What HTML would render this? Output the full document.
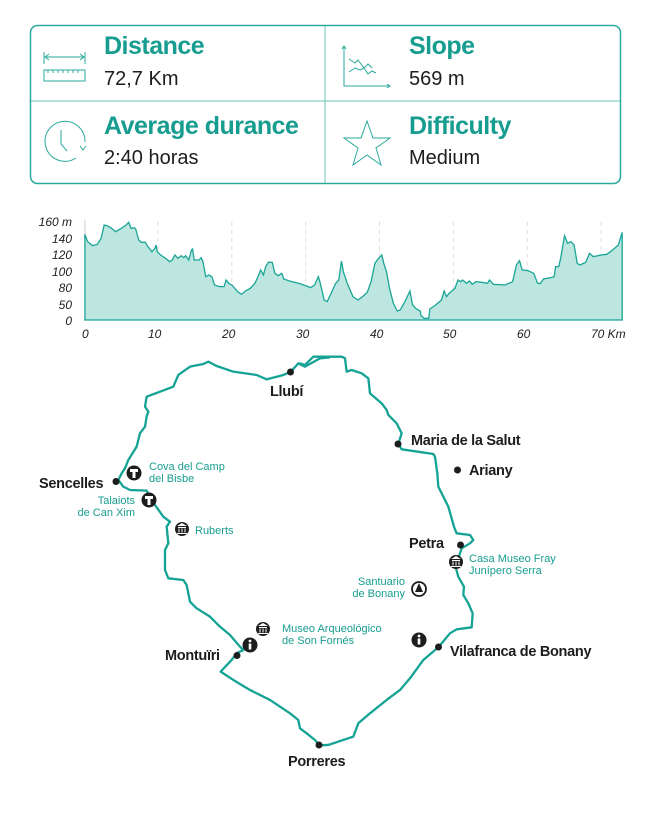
<!DOCTYPE html>
<html><head><meta charset="utf-8"><style>
body{margin:0;width:647px;height:821px;background:#fff;font-family:"Liberation Sans",sans-serif;overflow:hidden}
svg{position:absolute;left:0;top:0}
</style></head><body>
<svg width="647" height="821" viewBox="0 0 647 821" xmlns="http://www.w3.org/2000/svg">
<rect x="30.5" y="25.5" width="590" height="158" rx="7" fill="none" stroke="#2aa99c" stroke-width="1.5"/>
<line x1="325" y1="26" x2="325" y2="183" stroke="#6cc4bb" stroke-width="1"/>
<line x1="31" y1="101" x2="620" y2="101" stroke="#6cc4bb" stroke-width="1"/>
<g font-weight="bold" fill="#179d90" font-size="25" letter-spacing="-0.5">
<text x="104" y="54">Distance</text>
<text x="409" y="54">Slope</text>
<text x="104" y="134">Average durance</text>
<text x="409" y="134">Difficulty</text>
</g>
<g fill="#1d1d1d" font-size="20">
<text x="104" y="85">72,7 Km</text>
<text x="409" y="85">569 m</text>
<text x="104" y="164">2:40 horas</text>
<text x="409" y="164">Medium</text>
</g>
<g fill="none" stroke="#2aa99c" stroke-width="1">
<line x1="44" y1="52" x2="44" y2="64"/><line x1="85" y1="52" x2="85" y2="64"/>
<line x1="45" y1="57" x2="84" y2="57"/><path d="M49 54l-4 3 4 3M80 54l4 3-4 3"/>
<rect x="44" y="70" width="41" height="11"/>
<path d="M48 70v3M53 70v3M58 70v3M63 70v3M68 70v3M73 70v3M78 70v3"/>
<path d="M344 46v40h46M342 49l2-3 2 3M387 84l3 2-3 2"/>
<path d="M349 59l6 4 3-3 6 8 4-4 4 4"/><path d="M349 72l6-4 5 2 4-2 4 6 4-3 4 2"/>
<path d="M85 142 A20 20 0 1 0 76 158"/><path d="M80 146l3 4 3-4"/><path d="M61 130v14l6 7"/>
<path d="M367 121l6 17 17 0-14 10 5 17-14-10-14 10 5-17-14-10 17 0z"/>
</g>
<g font-size="12" font-style="italic" fill="#222" text-anchor="end">
<text x="72" y="226">160 m</text><text x="72" y="243">140</text><text x="72" y="259">120</text>
<text x="72" y="276">100</text><text x="72" y="292">80</text><text x="72" y="309">50</text><text x="72" y="325">0</text>
</g>
<g font-size="12" font-style="italic" fill="#222">
<text x="82" y="338">0</text><text x="148" y="338">10</text><text x="222" y="338">20</text><text x="296" y="338">30</text>
<text x="370" y="338">40</text><text x="443" y="338">50</text><text x="517" y="338">60</text><text x="591" y="338">70 Km</text>
</g>
<g transform="translate(28,205) scale(0.3846,0.3333)">
<g stroke="#ddd" stroke-width="1" stroke-dasharray="4 4">
<line x1="338" y1="50" x2="338" y2="345" vector-effect="non-scaling-stroke"/><line x1="530" y1="50" x2="530" y2="345" vector-effect="non-scaling-stroke"/><line x1="722" y1="50" x2="722" y2="345" vector-effect="non-scaling-stroke"/><line x1="914" y1="50" x2="914" y2="345" vector-effect="non-scaling-stroke"/><line x1="1106" y1="50" x2="1106" y2="345" vector-effect="non-scaling-stroke"/><line x1="1298" y1="50" x2="1298" y2="345" vector-effect="non-scaling-stroke"/><line x1="1490" y1="50" x2="1490" y2="345" vector-effect="non-scaling-stroke"/>
</g>
<line x1="148" y1="45" x2="148" y2="345" stroke="#ccc" vector-effect="non-scaling-stroke"/>
<path fill="#bde6e0" stroke="#1aa596" stroke-width="1.3" vector-effect="non-scaling-stroke" d="M148 88L155 110L168 122L180 118L190 100L198 60L205 62L215 68L228 80L240 72L255 60L262 52L268 70L276 68L280 72L288 105L295 112L305 112L312 125L322 140L330 130L333 120L336 140L345 150L360 162L368 170L375 165L382 150L390 160L398 152L405 158L410 152L418 165L425 135L428 132L432 165L445 165L450 158L455 170L462 215L470 210L478 215L485 240L498 245L510 245L515 225L522 235L530 240L545 260L555 268L565 258L578 250L590 235L598 215L605 195L612 210L618 185L625 172L635 172L642 205L650 212L660 205L665 222L680 228L710 237L735 248L745 240L755 215L760 235L770 285L778 290L790 260L800 235L808 225L815 168L820 200L830 235L845 275L858 285L870 275L882 262L892 230L902 175L910 162L920 150L925 175L932 200L940 250L950 295L960 318L968 315L980 290L993 258L1000 300L1010 312L1020 318L1022 332L1030 340L1042 340L1045 312L1060 300L1075 285L1082 258L1088 275L1095 265L1110 250L1118 225L1125 230L1130 225L1140 235L1148 228L1155 238L1165 230L1180 232L1195 235L1200 225L1210 238L1240 240L1260 230L1270 180L1278 167L1285 195L1300 197L1315 205L1325 235L1332 236L1340 222L1360 218L1368 215L1372 185L1380 185L1385 160L1395 92L1403 115L1412 110L1420 120L1428 175L1435 180L1450 172L1460 145L1470 155L1490 150L1505 148L1520 135L1535 120L1545 82L1545 345L148 345Z"/>
</g>
<g fill="none" stroke="#14a395" stroke-width="2.3" stroke-linejoin="round">
<g transform="translate(30,350) scale(0.3333)"><path vector-effect="non-scaling-stroke" d="M782 66L760 75L710 88L680 75L610 65L560 48L535 35L520 42L480 50L445 75L430 110L350 140L345 170L355 185L350 200L345 230L330 250L320 290L295 330L285 355L275 370L265 390L280 410L300 420L350 422L360 440L375 465L400 500L420 515L410 530L415 580L405 600L405 660L415 685L460 690L470 705L480 755L500 775L540 800L570 830L600 855L630 890L640 900L620 910L605 930L572 965L610 990L660 1020L720 1050L780 1090L805 1110L810 1135L830 1150L855 1170L868 1186"/>
<path vector-effect="non-scaling-stroke" d="M900 22L870 25L825 50L805 40L782 66"/></g>
<g transform="translate(300,350) scale(0.3333)"><path vector-effect="non-scaling-stroke" d="M58 1186L85 1185L130 1170L160 1160L175 1120L210 1090L260 1050L300 1020L330 985L370 930L415 892L450 850L470 838L515 832L518 790L505 760L490 735L492 710L475 680L468 655L470 640L480 610L485 595L510 580L520 570L510 555L470 550L462 530L445 470L430 440L415 410L412 370L405 320L400 312L305 298L295 282L305 250L290 220L265 195L260 180L245 160L210 130L205 85L185 70L155 60L140 65L135 25L125 20L40 20L15 45L0 40"/></g>
</g>
<g fill="#1d1d1d">
<circle cx="290.5" cy="372" r="3.5"/><circle cx="398" cy="444" r="3.5"/><circle cx="457.5" cy="470" r="3.5"/>
<circle cx="460.5" cy="545" r="3.5"/><circle cx="438.5" cy="647" r="3.5"/><circle cx="319" cy="745" r="3.5"/>
<circle cx="237" cy="655.5" r="3.5"/><circle cx="116" cy="481.5" r="3.5"/>
</g>
<g font-weight="bold" font-size="14.5" fill="#1d1d1d" letter-spacing="-0.3">
<text x="270" y="396">Llubí</text>
<text x="411" y="445">Maria de la Salut</text>
<text x="469" y="475">Ariany</text>
<text x="409" y="548">Petra</text>
<text x="450" y="656">Vilafranca de Bonany</text>
<text x="288" y="766">Porreres</text>
<text x="165" y="660">Montuïri</text>
<text x="39" y="488">Sencelles</text>
</g>
<g font-size="11" fill="#179d90">
<text x="149" y="470">Cova del Camp</text><text x="149" y="482">del Bisbe</text>
<text x="135" y="504" text-anchor="end">Talaiots</text><text x="135" y="516" text-anchor="end">de Can Xim</text>
<text x="195" y="534">Ruberts</text>
<text x="282" y="632">Museo Arqueológico</text><text x="282" y="644">de Son Fornés</text>
<text x="469" y="562">Casa Museo Fray</text><text x="469" y="574">Junípero Serra</text>
<text x="405" y="585" text-anchor="end">Santuario</text><text x="405" y="597" text-anchor="end">de Bonany</text>
</g>
<g>
<circle cx="134" cy="473" r="7.5" fill="#1d1d1d"/><path d="M130 469h8v3h-2.5v6h-3v-6h-2.5z" fill="#fff"/>
<circle cx="149" cy="500" r="7.5" fill="#1d1d1d"/><path d="M145 496h8v3h-2.5v6h-3v-6h-2.5z" fill="#fff"/>
<circle cx="182" cy="529" r="7" fill="#1d1d1d"/><path d="M177 526l5-3 5 3zM178 527h8v1h-8zM178.5 528.5h1v4h-1zM181.5 528.5h1v4h-1zM184.5 528.5h1v4h-1zM177 533h10v1h-10z" fill="#fff"/>
<circle cx="263" cy="629" r="7" fill="#1d1d1d"/><path d="M258 626l5-3 5 3zM259 627h8v1h-8zM259.5 628.5h1v4h-1zM262.5 628.5h1v4h-1zM265.5 628.5h1v4h-1zM258 633h10v1h-10z" fill="#fff"/>
<circle cx="456" cy="562" r="7" fill="#1d1d1d"/><path d="M451 559l5-3 5 3zM452 560h8v1h-8zM452.5 561.5h1v4h-1zM455.5 561.5h1v4h-1zM458.5 561.5h1v4h-1zM451 566h10v1h-10z" fill="#fff"/>
<circle cx="250" cy="645" r="7.5" fill="#1d1d1d"/><circle cx="250" cy="641" r="1.4" fill="#fff"/><rect x="248.7" y="643.5" width="2.6" height="6" fill="#fff"/>
<circle cx="419" cy="640" r="7.5" fill="#1d1d1d"/><circle cx="419" cy="636" r="1.4" fill="#fff"/><rect x="417.7" y="638.5" width="2.6" height="6" fill="#fff"/>
<circle cx="419" cy="589" r="7" fill="#fff" stroke="#1d1d1d" stroke-width="1.8"/><path d="M419 583l4 9h-8z" fill="#1d1d1d"/>
</g>
</svg>
</body></html>
